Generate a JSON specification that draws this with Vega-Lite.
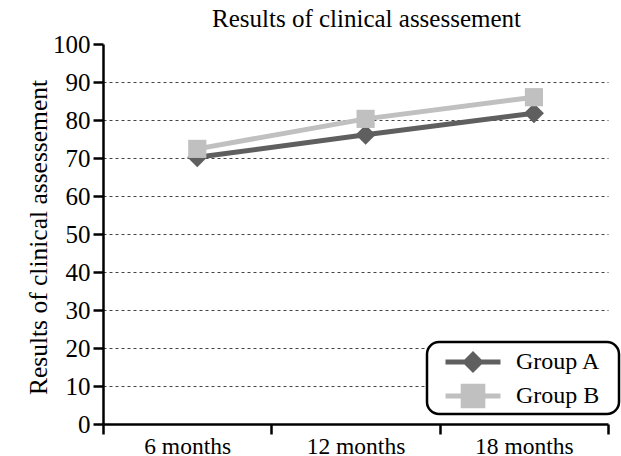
{
  "$schema": "https://vega.github.io/schema/vega-lite/v6.json",
  "autosize": "none",
  "padding": {"left": 103, "top": 44, "right": 13, "bottom": 32},
  "width": 505,
  "height": 380,
  "background": "white",
  "title": {"text": "Results of clinical assessement", "font": "'Liberation Serif', 'Times New Roman', serif", "fontSize": 25, "fontWeight": "normal", "color": "black", "offset": 0, "dx": 11, "anchor": "middle"},
  "data": {"values": [
    {"time": "6 months", "group": "Group A", "value": 70.2},
    {"time": "12 months", "group": "Group A", "value": 76.1},
    {"time": "18 months", "group": "Group A", "value": 81.8},
    {"time": "6 months", "group": "Group B", "value": 72.4},
    {"time": "12 months", "group": "Group B", "value": 80.3},
    {"time": "18 months", "group": "Group B", "value": 86.0}
  ]},
  "encoding": {
    "x": {"field": "time", "type": "nominal", "sort": ["6 months", "12 months", "18 months"], "bandPosition": 0.56,
      "scale": {"type": "band", "paddingInner": 0, "paddingOuter": 0},
      "axis": {"title": null, "labelAngle": 0, "labelFont": "'Liberation Serif', 'Times New Roman', serif", "labelFontSize": 23.5, "labelColor": "black", "labelPadding": 0,
        "tickBand": "extent", "tickSize": 10, "tickWidth": 2.5, "tickColor": "black", "domainColor": "black", "domainWidth": 2.5, "grid": false}},
    "y": {"field": "value", "type": "quantitative", "scale": {"domain": [0, 100], "nice": false},
      "axis": {"title": "Results of clinical assessement", "titleFont": "'Liberation Serif', 'Times New Roman', serif", "titleFontSize": 25.5, "titleFontWeight": "normal", "titleColor": "black",
        "titleX": -57, "titleY": 193, "titleBaseline": "alphabetic", "titleAngle": 270, "titleAlign": "center",
        "values": [0, 10, 20, 30, 40, 50, 60, 70, 80, 90, 100],
        "labelFont": "'Liberation Serif', 'Times New Roman', serif", "labelFontSize": 25, "labelColor": "black", "labelPadding": 3,
        "tickSize": 10, "tickWidth": 2.5, "tickColor": "black", "domainColor": "black", "domainWidth": 2.5,
        "grid": true, "gridDash": [3, 3], "gridWidth": 1,
        "gridColor": {"condition": {"test": "datum.value === 100 || datum.value === 0", "value": "rgba(0,0,0,0)"}, "value": "#444444"}}}
  },
  "layer": [
    {
      "mark": {"type": "line", "strokeWidth": 5},
      "encoding": {
        "color": {"field": "group", "type": "nominal",
          "scale": {"domain": ["Group A", "Group B"], "range": ["#5f5f5f", "#c0c0c0"]},
          "legend": {"title": "i", "titleOrient": "right", "titleColor": "rgba(0,0,0,0)", "titleFontSize": 10, "titlePadding": 10,
            "orient": "none", "legendX": 324, "legendY": 298,
            "padding": 5, "fillColor": "white", "strokeColor": "black", "cornerRadius": 12,
            "symbolSize": 900, "symbolOffset": 26, "labelOffset": 28, "rowPadding": 7,
            "labelFont": "'Liberation Serif', 'Times New Roman', serif", "labelFontSize": 24, "labelColor": "black",
            "encode": {
              "legend": {"update": {"strokeWidth": {"value": 2.5}}},
              "symbols": {"update": {
              "shape": {"signal": "datum.value == 'Group A' ? 'M-1.833,-0.167H1.833V0.167H-1.833Z M0,-0.733L0.733,0L0,0.733L-0.733,0Z' : 'M-1.833,-0.167H1.833V0.167H-1.833Z M-0.82,-0.82H0.82V0.82H-0.82Z'"},
              "fill": {"signal": "datum.value == 'Group A' ? '#5f5f5f' : '#c0c0c0'"},
              "stroke": {"value": "transparent"},
              "strokeWidth": {"value": 0},
              "opacity": {"value": 1},
              "fillOpacity": {"value": 1}
            }}}}
        }
      }
    },
    {
      "transform": [{"filter": "datum.group == 'Group A'"}],
      "mark": {"type": "point", "shape": "diamond", "filled": true, "size": 400, "color": "#5f5f5f", "opacity": 1}
    },
    {
      "transform": [{"filter": "datum.group == 'Group B'"}],
      "mark": {"type": "point", "shape": "square", "filled": true, "size": 330, "color": "#c0c0c0", "opacity": 1}
    }
  ],
  "config": {"view": {"stroke": null}}
}
